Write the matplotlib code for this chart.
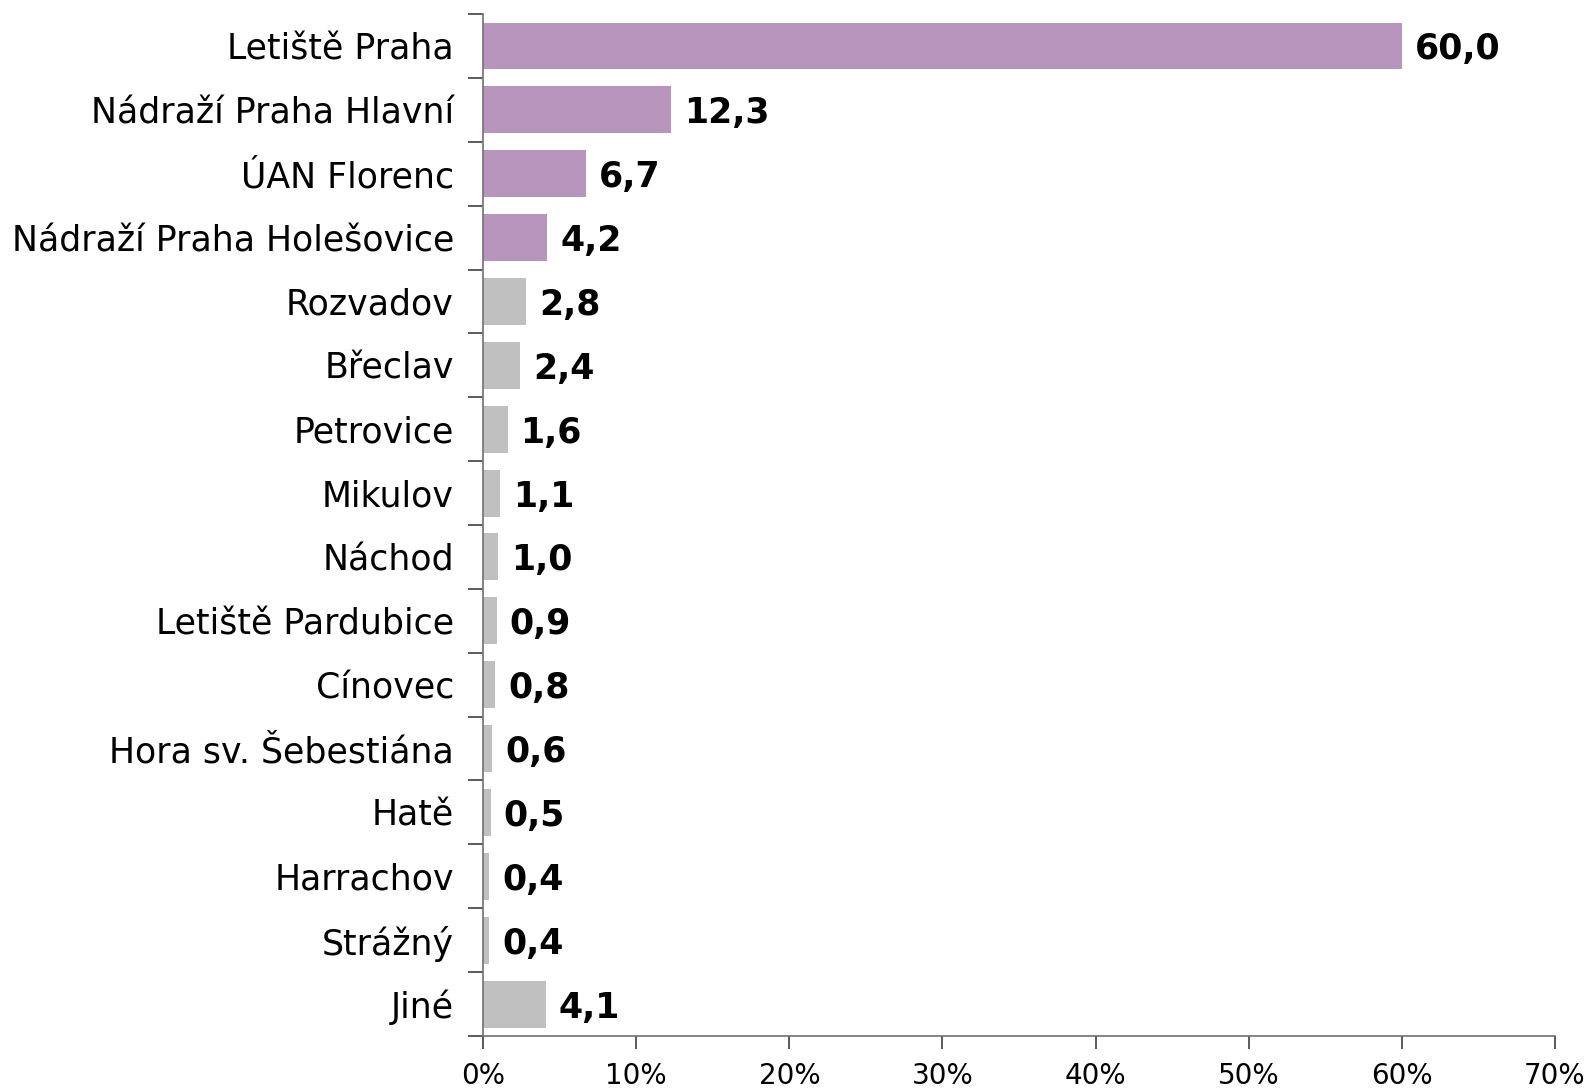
import matplotlib
matplotlib.use("Agg")
import matplotlib.pyplot as plt
from matplotlib.ticker import FuncFormatter

categories = ["Letiště Praha", "Nádraží Praha Hlavní", "ÚAN Florenc", "Nádraží Praha Holešovice",
              "Rozvadov", "Břeclav", "Petrovice", "Mikulov", "Náchod", "Letiště Pardubice",
              "Cínovec", "Hora sv. Šebestiána", "Hatě", "Harrachov", "Strážný", "Jiné"]
values = [60.0, 12.3, 6.7, 4.2, 2.8, 2.4, 1.6, 1.1, 1.0, 0.9, 0.8, 0.6, 0.5, 0.4, 0.4, 4.1]
highlight = [True, True, True, True] + [False] * 12
x_ticks = [0, 10, 20, 30, 40, 50, 60, 70]

purple = "#B795BD"
gray = "#C0C0C0"

plt.rcParams['font.family'] = ['DejaVu Sans']
fig = plt.figure(figsize=(15.88, 10.89), dpi=100)
ax = fig.add_axes([0.3042, 0.0487, 0.6750, 0.9384])

n = len(categories)
ypos = list(range(n))
colors = [purple if h else gray for h in highlight]
ax.barh(ypos, values, height=0.735, color=colors, zorder=2)
ax.set_ylim(n - 0.5, -0.5)
ax.set_xlim(0, 70)

for y, v in zip(ypos, values):
    ax.text(v + 0.85, y, f"{v:.1f}".replace(".", ","), va="center_baseline", ha="left",
            fontsize=25, fontweight="bold", color="black")

ax.set_yticks([i - 0.5 for i in range(n + 1)], minor=False)
ax.set_yticklabels([])
ax.set_yticks(ypos, minor=True)
ax.set_yticklabels(categories, minor=True, fontsize=25)
ax.tick_params(axis="y", which="minor", length=0, pad=21)
ax.tick_params(axis="y", which="major", length=11, width=1.2, color="#404040", direction="out")

ax.set_xticks(x_ticks)
ax.xaxis.set_major_formatter(FuncFormatter(lambda x, p: f"{int(x)}%"))
ax.tick_params(axis="x", length=9, width=1.2, color="#404040", labelsize=20, pad=10)

for s in ["top", "right"]:
    ax.spines[s].set_visible(False)
for s in ["left", "bottom"]:
    ax.spines[s].set_color("#707070")
    ax.spines[s].set_linewidth(1.2)

fig.savefig("out.png", dpi=100)
